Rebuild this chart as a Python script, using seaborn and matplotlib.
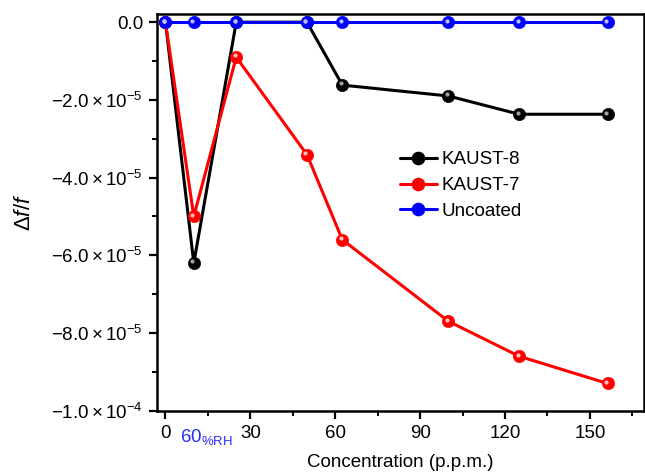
import numpy as np
import pandas as pd
import seaborn as sns
import matplotlib
matplotlib.use("Agg")
import matplotlib.pyplot as plt
from matplotlib.ticker import FixedLocator, FuncFormatter, MultipleLocator
from matplotlib.lines import Line2D
from matplotlib.transforms import ScaledTranslation

# ---- data ----
conc = [0, 10, 25, 50, 62.5, 100, 125, 156.25]
kaust8 = [0.0, -6.2e-5, 0.0, 0.0, -1.62e-5, -1.90e-5, -2.37e-5, -2.37e-5]
kaust7 = [0.0, -5.0e-5, -0.9e-5, -3.41e-5, -5.6e-5, -7.7e-5, -8.6e-5, -9.3e-5]
uncoated = [0.0, 0.0, 0.0, 0.0, 0.0, 0.0, 0.0, 0.0]
series_names = ["KAUST-8", "KAUST-7", "Uncoated"]
colors = ["#000000", "#ff0000", "#0000ff"]
highlight = ["#a0a0a0", "#ffc0c0", "#c0c0ff"]
xticks = [0, 30, 60, 90, 120, 150]
yticks = [0.0, -2e-5, -4e-5, -6e-5, -8e-5, -1e-4]

sns.set_theme(style="ticks")
plt.rcParams["font.family"] = ["Liberation Sans", "DejaVu Sans"]
plt.rcParams["mathtext.fontset"] = "custom"
plt.rcParams["mathtext.rm"] = "Liberation Sans"
plt.rcParams["mathtext.it"] = "Liberation Sans:italic"
plt.rcParams["mathtext.bf"] = "Liberation Sans:bold"
for k in ["text.color", "axes.labelcolor", "xtick.color", "ytick.color", "axes.edgecolor"]:
    plt.rcParams[k] = "black"
FS = 13.5
plt.rcParams["font.size"] = FS

fig = plt.figure(figsize=(6.45, 4.75), dpi=100)
ax = fig.add_axes([0.2434, 0.1354, 0.7546, 0.8351])

df = pd.DataFrame({
    "conc": conc * 3,
    "val": kaust8 + kaust7 + uncoated,
    "series": [series_names[0]] * len(conc) + [series_names[1]] * len(conc) + [series_names[2]] * len(conc),
})

MS = 8.8
LW = 2.2
hl_trans = ax.transData + ScaledTranslation(-1.2 / 72, 1.2 / 72, fig.dpi_scale_trans)
for name, col, hc in zip(series_names, colors, highlight):
    sub = df[df.series == name]
    sns.lineplot(data=sub, x="conc", y="val", ax=ax, color=col, lw=LW,
                 marker="o", markersize=MS, markeredgecolor=col, markerfacecolor=col,
                 markeredgewidth=0.5, legend=False, zorder=3)
    # specular highlight to mimic shaded spheres
    ax.plot(sub["conc"].values, sub["val"].values, ls="none", marker="o",
            markersize=3.0, markerfacecolor=hc, markeredgecolor="none",
            transform=hl_trans, zorder=4)

ax.set_xlim(-3, 169)
ax.set_ylim(-1.0e-4, 2.1e-6)

ax.xaxis.set_major_locator(FixedLocator(xticks))
ax.xaxis.set_minor_locator(MultipleLocator(30, offset=15))
ax.yaxis.set_major_locator(FixedLocator(yticks))
ax.yaxis.set_minor_locator(MultipleLocator(2e-5, offset=1e-5))


def yfmt(v, pos):
    if abs(v) < 1e-12:
        return "0.0"
    exp = int(np.floor(np.log10(abs(v)) + 1e-9))
    mant = v / 10 ** exp
    return r"$\mathrm{%.1f}\times\mathrm{10}^{\mathrm{%d}}$" % (mant, exp)

ax.yaxis.set_major_formatter(FuncFormatter(yfmt))
ax.set_xticklabels([str(t) for t in xticks])

for s in ax.spines.values():
    s.set_linewidth(1.8)
    s.set_color("black")
ax.tick_params(which="major", direction="out", length=6, width=1.6, labelsize=FS,
               colors="black", pad=4)
ax.tick_params(which="minor", direction="out", length=3.5, width=1.4, colors="black")

ax.set_xlabel("Concentration (p.p.m.)", fontsize=FS, labelpad=9, color="black")
ax.set_ylabel(r"$\Delta\mathit{f}/\mathit{f}$", fontsize=16, labelpad=12, color="black")

# blue humidity label on the x axis
ax.text(14.3, -0.04, r"$\mathrm{60}_{\mathrm{\%RH}}$", color="#2b2bff",
        transform=ax.get_xaxis_transform(), ha="center", va="top", fontsize=FS)

handles = [Line2D([], [], color=c, lw=LW, marker="o", markersize=MS) for c in colors]
leg = ax.legend(handles, series_names, loc="upper left", bbox_to_anchor=(0.483, 0.673),
                frameon=False, fontsize=FS, handlelength=2.0, handletextpad=0.25,
                labelspacing=0.46, borderaxespad=0)
for t in leg.get_texts():
    t.set_color("black")

fig.savefig("out.png", dpi=100)
